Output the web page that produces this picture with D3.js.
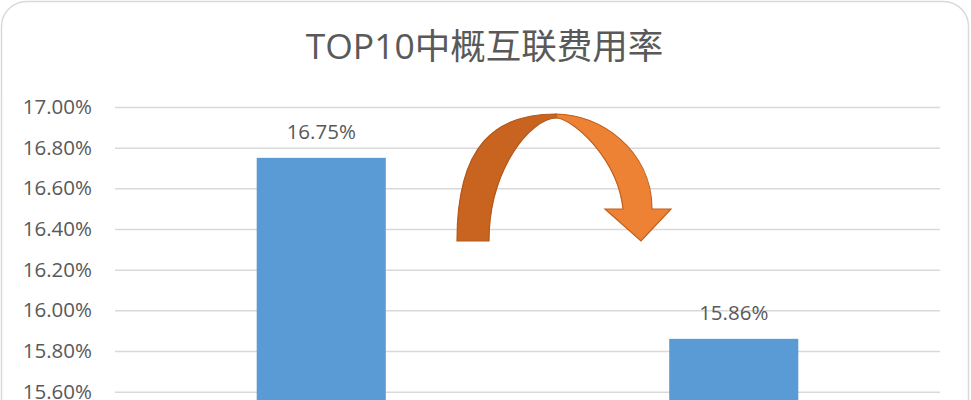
<!DOCTYPE html>
<html><head><meta charset="utf-8">
<script src="https://cdn.jsdelivr.net/npm/d3@7"></script>
<style>html,body{margin:0;padding:0;background:#fff;overflow:hidden}</style>
</head><body>
<svg id="c" width="971" height="400"></svg>
<script>
const title = "TOP10中概互联费用率";
const categories = ["A", "B"];
const values = [16.75, 15.86];
const yTicks = [15.6, 15.8, 16.0, 16.2, 16.4, 16.6, 16.8, 17.0];

(function () {
const svg = d3.select("#c");
const W = 971;
const pLeft = 115, pRight = 940, pTop = 107;
const y = d3.scaleLinear().domain([15.0, 17.0]).range([pTop + 40.67 * 10, pTop]);
const x = d3.scaleBand().domain(categories).range([pLeft, pRight]).padding(0);
const barW = x.bandwidth() * 0.313;
const txt = "#595959";
const font = "'Open Sans', 'Noto Sans CJK SC', sans-serif";

svg.append("rect").attr("x", 1.5).attr("y", 1.5).attr("width", 967).attr("height", 460)
  .attr("rx", 25).attr("fill", "#fff").attr("stroke", "#D9D9D9").attr("stroke-width", 1.5);

svg.append("text").attr("x", W / 2 - 1).attr("y", 59).attr("text-anchor", "middle")
  .attr("font-family", font).attr("font-size", 35.5).attr("fill", txt).text(title);

const yAxis = d3.axisLeft(y).tickValues(yTicks).tickSize(-(pRight - pLeft)).tickPadding(23)
  .tickFormat(d => d.toFixed(2) + "%");
const g = svg.append("g").attr("transform", `translate(${pLeft},0)`).call(yAxis);
g.select(".domain").remove();
g.selectAll(".tick line").attr("stroke", "#D9D9D9").attr("stroke-width", 1.5);
g.selectAll(".tick text").attr("fill", txt).attr("font-family", font).attr("font-size", 20.5);

svg.selectAll(".bar").data(values).enter().append("rect")
  .attr("x", (d, i) => x(categories[i]) + x.bandwidth() / 2 - barW / 2)
  .attr("y", d => y(d)).attr("width", barW).attr("height", d => y(15.0) - y(d))
  .attr("fill", "#5B9BD5");

svg.selectAll(".lbl").data(values).enter().append("text")
  .attr("x", (d, i) => x(categories[i]) + x.bandwidth() / 2)
  .attr("y", d => y(d) - 19).attr("text-anchor", "middle")
  .attr("font-family", font).attr("font-size", 20.5).attr("fill", txt)
  .text(d => d.toFixed(2) + "%");

// decorative curved arrow
svg.append("path")
  .attr("d", "M457,241 C457,145 495,114 556,114 L557,118 C530,118 489,170 489,241 Z")
  .attr("fill", "#C8641F").attr("stroke", "#B5581A").attr("stroke-width", 1.2);
svg.append("path")
  .attr("d", "M556,114 C600,114 652,150 652,209 L671,209 L641,241 L605,209 L623,209 C618,160 575,120 557,118 Z")
  .attr("fill", "#EE8234").attr("stroke", "#C0601E").attr("stroke-width", 1.2);
})();
</script>
</body></html>
